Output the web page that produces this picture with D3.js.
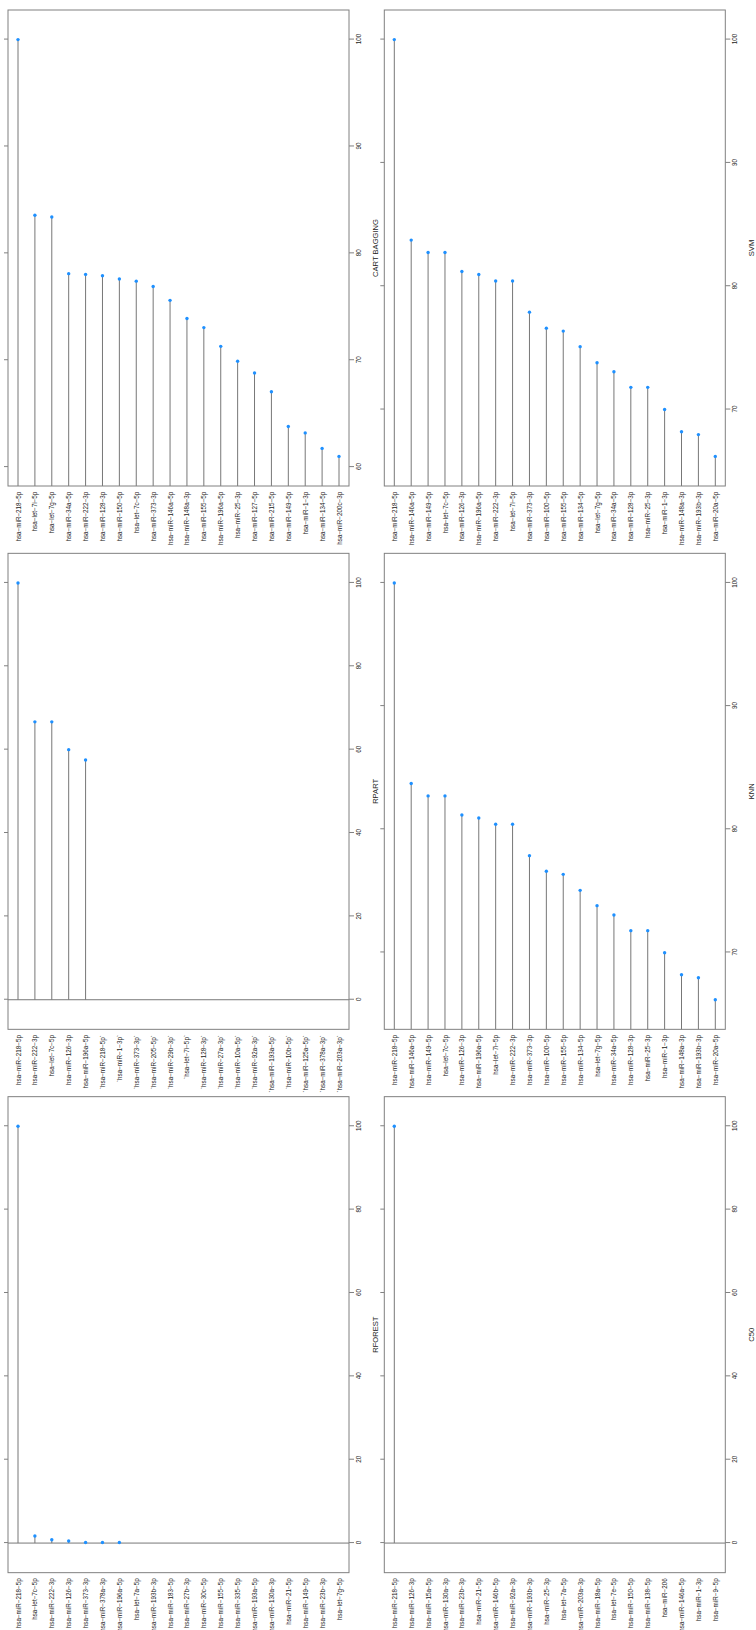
<!DOCTYPE html>
<html lang="en">
<head>
<meta charset="UTF-8">
<title>miRNA importance by model</title>
<script src="https://d3js.org/d3.v7.min.js"></script>
<style>
  body { margin: 0; background: #fff; }
  svg { display: block; font-family: "Liberation Sans", Arial, sans-serif; }
  .box { fill: none; stroke: #808080; stroke-width: 1; }
  .stem { stroke: #777; stroke-width: 1; }
  .zero { stroke: #777; stroke-width: 1; }
  .dot { fill: #1e90ff; }
  .axis path { stroke: #808080; }
  .axis line { stroke: #808080; }
  .axis text { fill: #222; font-size: 6.3px; }
  .title { fill: #222; font-size: 7.6px; }
</style>
</head>
<body>
<svg width="756" height="1630"></svg>
<script>
// data: importance per miRNA, sorted as in the plots (null = not plotted)
const cartLabels = ["hsa-miR-218-5p","hsa-let-7i-5p","hsa-let-7g-5p","hsa-miR-34a-5p","hsa-miR-222-3p","hsa-miR-128-3p","hsa-miR-150-5p","hsa-let-7c-5p","hsa-miR-373-3p","hsa-miR-146a-5p","hsa-miR-148a-3p","hsa-miR-155-5p","hsa-miR-196a-5p","hsa-miR-25-3p","hsa-miR-127-5p","hsa-miR-215-5p","hsa-miR-149-5p","hsa-miR-1-3p","hsa-miR-134-5p","hsa-miR-200c-3p"];
const cartValues = [100, 83.56, 83.4, 78.1, 78.03, 77.9, 77.6, 77.4, 76.9, 75.6, 73.9, 73.05, 71.3, 69.9, 68.8, 67.05, 63.8, 63.2, 61.75, 61.0];

const svmLabels = ["hsa-miR-218-5p","hsa-miR-146a-5p","hsa-miR-149-5p","hsa-let-7c-5p","hsa-miR-126-3p","hsa-miR-196a-5p","hsa-miR-222-3p","hsa-let-7i-5p","hsa-miR-373-3p","hsa-miR-100-5p","hsa-miR-155-5p","hsa-miR-134-5p","hsa-let-7g-5p","hsa-miR-34a-5p","hsa-miR-128-3p","hsa-miR-25-3p","hsa-miR-1-3p","hsa-miR-148a-3p","hsa-miR-193b-3p","hsa-miR-20a-5p"];
const svmValues = [100, 83.74, 82.74, 82.74, 81.2, 80.95, 80.43, 80.43, 77.9, 76.6, 76.36, 75.1, 73.8, 73.06, 71.8, 71.8, 70.0, 68.2, 67.97, 66.2];

const rpartLabels = ["hsa-miR-218-5p","hsa-miR-222-3p","hsa-let-7c-5p","hsa-miR-126-3p","hsa-miR-196a-5p","`hsa-miR-218-5p`","`hsa-miR-1-3p`","`hsa-miR-373-3p`","`hsa-miR-205-5p`","`hsa-miR-29b-3p`","`hsa-let-7i-5p`","`hsa-miR-128-3p`","`hsa-miR-27a-3p`","`hsa-miR-10a-5p`","`hsa-miR-92a-3p`","`hsa-miR-193a-5p`","`hsa-miR-10b-5p`","`hsa-miR-125a-5p`","`hsa-miR-378a-3p`","`hsa-miR-203a-3p`"];
const rpartValues = [100, 66.67, 66.67, 60, 57.5, null, null, null, null, null, null, null, null, null, null, null, null, null, null, null];

const knnLabels = ["hsa-miR-218-5p","hsa-miR-146a-5p","hsa-miR-149-5p","hsa-let-7c-5p","hsa-miR-126-3p","hsa-miR-196a-5p","hsa-let-7i-5p","hsa-miR-222-3p","hsa-miR-373-3p","hsa-miR-100-5p","hsa-miR-155-5p","hsa-miR-134-5p","hsa-let-7g-5p","hsa-miR-34a-5p","hsa-miR-128-3p","hsa-miR-25-3p","hsa-miR-1-3p","hsa-miR-148a-3p","hsa-miR-193b-3p","hsa-miR-20a-5p"];
const knnValues = [100, 83.72, 82.71, 82.71, 81.16, 80.92, 80.41, 80.41, 77.86, 76.59, 76.34, 75.04, 73.8, 73.04, 71.77, 71.77, 69.98, 68.19, 67.94, 66.16];

const rforestLabels = ["hsa-miR-218-5p","hsa-let-7c-5p","hsa-miR-222-3p","hsa-miR-126-3p","hsa-miR-373-3p","hsa-miR-378a-3p","hsa-miR-196a-5p","hsa-let-7a-5p","hsa-miR-193b-3p","hsa-miR-183-5p","hsa-miR-27b-3p","hsa-miR-30c-5p","hsa-miR-155-5p","hsa-miR-335-5p","hsa-miR-193a-5p","hsa-miR-130a-3p","hsa-miR-21-5p","hsa-miR-149-5p","hsa-miR-23b-3p","hsa-let-7g-5p"];
const rforestValues = [100, 1.7, 0.8, 0.5, 0.15, 0.15, 0.15, null, null, null, null, null, null, null, null, null, null, null, null, null];

const c50Labels = ["hsa-miR-218-5p","hsa-miR-126-3p","hsa-miR-15a-5p","hsa-miR-130a-3p","hsa-miR-23b-3p","hsa-miR-21-5p","hsa-miR-146b-5p","hsa-miR-92a-3p","hsa-miR-193b-3p","hsa-miR-25-3p","hsa-let-7a-5p","hsa-miR-203a-3p","hsa-miR-18a-5p","hsa-let-7e-5p","hsa-miR-150-5p","hsa-miR-138-5p","hsa-miR-206","hsa-miR-146a-5p","hsa-miR-1-3p","hsa-miR-9-5p"];
const c50Values = [100, null, null, null, null, null, null, null, null, null, null, null, null, null, null, null, null, null, null, null];

// row/col as seen on the page
const panels = [
  {title: "CART BAGGING", labels: cartLabels, values: cartValues, row: 0, col: 0},
  {title: "SVM", labels: svmLabels, values: svmValues, row: 0, col: 1},
  {title: "RPART", labels: rpartLabels, values: rpartValues, row: 1, col: 0},
  {title: "KNN", labels: knnLabels, values: knnValues, row: 1, col: 1},
  {title: "RFOREST", labels: rforestLabels, values: rforestValues, row: 2, col: 0},
  {title: "C50", labels: c50Labels, values: c50Values, row: 2, col: 1}
];

const W = 756, H = 1630;
const boxW = 476;   // along value axis
const boxH = 341;   // along category axis
const rowTop = r => 10 + r * H / 3;
const colLeft = [8, 384.3];

const svg = d3.select("svg");
// the plot is drawn horizontally, then turned a quarter turn counter-clockwise
const root = svg.append("g").attr("transform", `translate(0,${H}) rotate(-90)`);

const minus = s => s.replace(/-/g, "\u2212");

panels.forEach(p => {
  const ox = H - (rowTop(p.row) + boxW);
  const oy = colLeft[p.col];
  const g = root.append("g").attr("transform", `translate(${ox},${oy})`);

  const present = p.values.filter(v => v != null);
  const ext = d3.extent(p.values.some(v => v == null) ? present.concat([0]) : present);
  const pad = (ext[1] - ext[0]) * 0.071;

  const x = d3.scaleLinear()
      .domain([ext[0] - pad, ext[1] + pad])
      .range([0, boxW])
      .clamp(true);
  const y = d3.scalePoint()
      .domain(d3.range(p.labels.length))
      .range([10, boxH - 10]);

  // zero line
  if (x.domain()[0] < 0) {
    g.append("line").attr("class", "zero")
      .attr("x1", x(0)).attr("x2", x(0))
      .attr("y1", 0).attr("y2", boxH);
  }

  const pts = p.values.map((v, i) => ({v, i})).filter(d => d.v != null);

  g.selectAll(".stem")
    .data(pts)
    .join("line")
    .attr("class", "stem")
    .attr("x1", x(0))
    .attr("x2", d => x(d.v))
    .attr("y1", d => y(d.i))
    .attr("y2", d => y(d.i));

  g.selectAll(".dot")
    .data(pts)
    .join("circle")
    .attr("class", "dot")
    .attr("cx", d => x(d.v))
    .attr("cy", d => y(d.i))
    .attr("r", 1.7);

  g.append("rect").attr("class", "box")
    .attr("width", boxW).attr("height", boxH);

  g.append("g").attr("class", "axis")
    .attr("transform", `translate(0,${boxH})`)
    .call(d3.axisBottom(x).ticks(5).tickSize(5).tickPadding(2.5))
    .call(a => a.select(".domain").remove());

  g.append("g").attr("class", "axis")
    .call(d3.axisTop(x).ticks(5).tickSize(4).tickFormat(""))
    .call(a => a.select(".domain").remove());

  g.append("g").attr("class", "axis")
    .call(d3.axisLeft(y).tickSize(0).tickPadding(5.7).tickFormat(i => minus(p.labels[i])))
    .call(a => a.select(".domain").remove());

  g.append("text").attr("class", "title")
    .attr("x", boxW / 2)
    .attr("y", boxH + 28.5)
    .attr("text-anchor", "middle")
    .text(p.title);
});
</script>
</body>
</html>
